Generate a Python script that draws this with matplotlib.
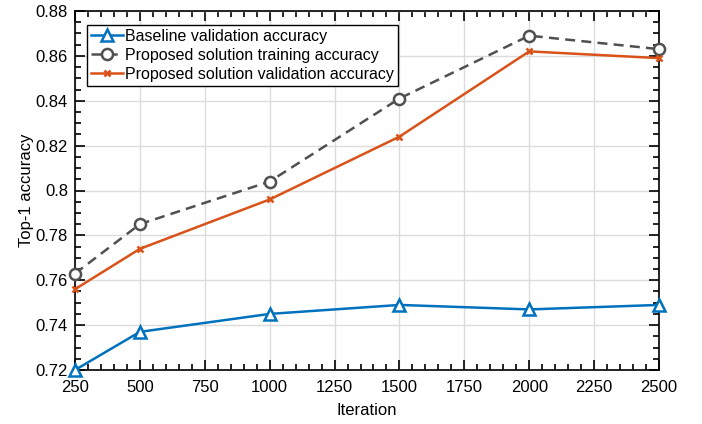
import matplotlib.pyplot as plt
from matplotlib.ticker import MultipleLocator

plt.rcParams['font.family'] = ['Liberation Sans', 'DejaVu Sans']

iterations = [250, 500, 1000, 1500, 2000, 2500]
baseline_val = [0.720, 0.737, 0.745, 0.749, 0.747, 0.749]
proposed_train = [0.763, 0.785, 0.804, 0.841, 0.869, 0.863]
proposed_val = [0.756, 0.774, 0.796, 0.824, 0.862, 0.859]
x_ticks = [250, 500, 750, 1000, 1250, 1500, 1750, 2000, 2250, 2500]
y_ticks = [0.72, 0.74, 0.76, 0.78, 0.8, 0.82, 0.84, 0.86, 0.88]
y_tick_labels = ['0.72', '0.74', '0.76', '0.78', '0.8', '0.82', '0.84', '0.86', '0.88']

fig = plt.figure(figsize=(7.02, 4.24), dpi=100)
ax = fig.add_axes([75 / 702, 1 - 370 / 424, (659 - 75) / 702, (370 - 11) / 424])

ax.plot(iterations, baseline_val, color='#0072BD', lw=1.8, marker='^', ms=9,
        mfc='white', mec='#0072BD', mew=1.8, label='Baseline validation accuracy',
        zorder=3, clip_on=False)
ax.plot(iterations, proposed_train, color='#505050', lw=1.8, ls=(0, (4, 2.5)), marker='o', ms=8,
        mfc='white', mec='#505050', mew=1.8, label='Proposed solution training accuracy',
        zorder=3, clip_on=False)
ax.plot(iterations, proposed_val, color='#D95319', lw=1.8, marker='x', ms=4,
        mew=1.8, label='Proposed solution validation accuracy', zorder=3, clip_on=False)

ax.set_xlim(250, 2500)
ax.set_ylim(0.72, 0.88)
ax.set_xticks(x_ticks)
ax.set_yticks(y_ticks)
ax.set_yticklabels(y_tick_labels)
ax.xaxis.set_minor_locator(MultipleLocator(50))
ax.yaxis.set_minor_locator(MultipleLocator(0.005))
ax.tick_params(which='both', direction='in', top=True, right=True, labelsize=12, width=1.2)
ax.tick_params(which='major', length=7)
ax.tick_params(axis='x', which='major', pad=7)
ax.tick_params(axis='y', which='major', pad=5)
ax.tick_params(which='minor', length=4)
for s in ax.spines.values():
    s.set_linewidth(1.2)
ax.grid(True, which='major', color='#DCDCDC', lw=1)
ax.set_axisbelow(True)

ax.set_xlabel('Iteration', fontsize=12, labelpad=6)
ax.set_ylabel('Top-1 accuracy', fontsize=12, labelpad=1)

leg = ax.legend(loc='upper left', fontsize=11.5, fancybox=False, edgecolor='black',
                framealpha=1, borderpad=0.25, labelspacing=0.25, handlelength=2.0,
                handletextpad=0.15, borderaxespad=0.0, bbox_to_anchor=(12 / 584, 1 - 14 / 359))
leg.get_frame().set_linewidth(1.0)

fig.savefig('out.png', dpi=100)
